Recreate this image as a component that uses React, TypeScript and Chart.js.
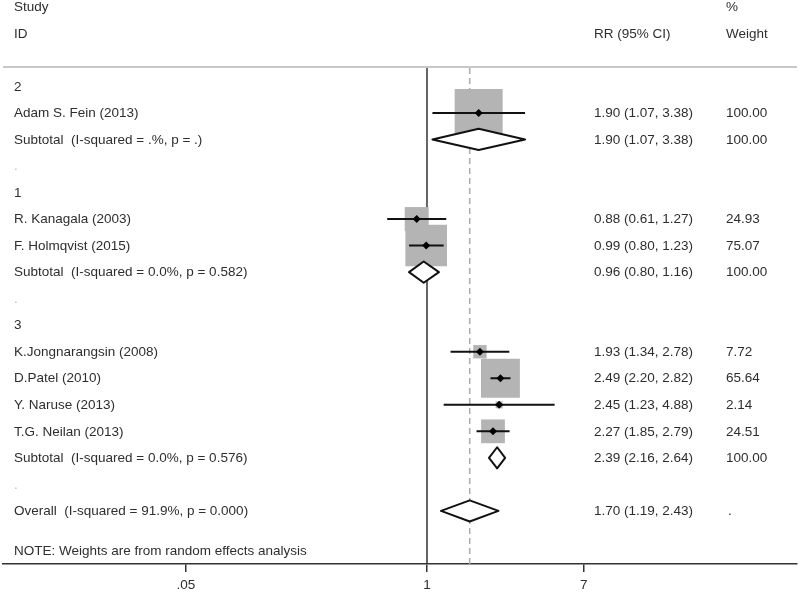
import React, { useEffect, useRef } from 'react';
import { Chart, registerables } from 'chart.js';

Chart.register(...registerables);

// ---- data ----
const GROUP_LABELS = ['2', '1', '3'];
const GROUP_ROWS = [0, 4, 9];

const STUDY_NAMES = [
  'Adam S. Fein (2013)',
  'R. Kanagala (2003)',
  'F. Holmqvist (2015)',
  'K.Jongnarangsin (2008)',
  'D.Patel (2010)',
  'Y. Naruse (2013)',
  'T.G. Neilan (2013)',
];
const STUDY_ROWS = [1, 5, 6, 10, 11, 12, 13];
const STUDY_RR = [1.9, 0.88, 0.99, 1.93, 2.49, 2.45, 2.27];
const STUDY_LO = [1.07, 0.61, 0.8, 1.34, 2.2, 1.23, 1.85];
const STUDY_HI = [3.38, 1.27, 1.23, 2.78, 2.82, 4.88, 2.79];
const STUDY_WEIGHT = [100.0, 24.93, 75.07, 7.72, 65.64, 2.14, 24.51];

const POOLED_LABELS = [
  'Subtotal  (I-squared = .%, p = .)',
  'Subtotal  (I-squared = 0.0%, p = 0.582)',
  'Subtotal  (I-squared = 0.0%, p = 0.576)',
  'Overall  (I-squared = 91.9%, p = 0.000)',
];
const POOLED_ROWS = [2, 7, 14, 16];
const POOLED_RR = [1.9, 0.96, 2.39, 1.7];
const POOLED_LO = [1.07, 0.8, 2.16, 1.19];
const POOLED_HI = [3.38, 1.16, 2.64, 2.43];
const POOLED_WEIGHT = ['100.00', '100.00', '100.00', '.'];

const SPACER_ROWS = [3, 8, 15];
const NOTE_TEXT = 'NOTE: Weights are from random effects analysis';
const NOTE_ROW = 17.5;

const X_TICKS = [0.05, 1, 7];
const X_TICK_LABELS = ['.05', '1', '7'];

// ---- styling constants ----
const FONT = '"Liberation Sans", Arial, sans-serif';
const FONT_SIZE = 13.5;
const TEXT_COLOR = '#2e2e2e';
const BOX_COLOR = '#b4b4b4';
const LINE_COLOR = '#111111';
const X_MIN = 0.00516;
const X_MAX = 99.1;
const Y_MIN = -0.73;
const Y_MAX = 18.0;
const BOX_SCALE = 48;
const DIAMOND_HALF = 0.4;

const fmt = (v: number) => v.toFixed(2);
const ciText = (rr: number, lo: number, hi: number) => `${fmt(rr)} (${fmt(lo)}, ${fmt(hi)})`;

const forestPlugin = {
  id: 'forestDecor',
  beforeDatasetsDraw(chart: any) {
    const { ctx, chartArea, scales } = chart;
    const x = scales.x;
    ctx.save();
    // header separator
    ctx.strokeStyle = '#c8c8c8';
    ctx.lineWidth = 2;
    ctx.beginPath();
    ctx.moveTo(chartArea.left, chartArea.top);
    ctx.lineTo(chartArea.right, chartArea.top);
    ctx.stroke();
    // null line at 1
    const x1 = x.getPixelForValue(1);
    ctx.strokeStyle = '#333333';
    ctx.lineWidth = 1.5;
    ctx.beginPath();
    ctx.moveTo(x1, chartArea.top + 1);
    ctx.lineTo(x1, chartArea.bottom);
    ctx.stroke();
    // overall dashed line
    const xo = x.getPixelForValue(POOLED_RR[POOLED_RR.length - 1]);
    ctx.strokeStyle = '#aaaaaa';
    ctx.lineWidth = 1.5;
    ctx.setLineDash([6, 4]);
    ctx.beginPath();
    ctx.moveTo(xo, chartArea.top + 1);
    ctx.lineTo(xo, chartArea.bottom);
    ctx.stroke();
    ctx.restore();
  },
  afterDatasetsDraw(chart: any) {
    const { ctx, scales } = chart;
    const y = scales.y;
    const COL_LABEL = 14;
    const COL_CI = 594;
    const COL_W = 726;
    ctx.save();
    ctx.font = `${FONT_SIZE}px ${FONT}`;
    ctx.textBaseline = 'middle';
    ctx.textAlign = 'left';
    ctx.fillStyle = TEXT_COLOR;
    const put = (t: string, px: number, row: number) => ctx.fillText(t, px, y.getPixelForValue(row) + 0.5);
    // headers
    put('Study', COL_LABEL, -3);
    put('ID', COL_LABEL, -2);
    put('%', COL_W, -3);
    put('Weight', COL_W, -2);
    put('RR (95% CI)', COL_CI, -2);
    GROUP_LABELS.forEach((g, i) => put(g, COL_LABEL, GROUP_ROWS[i]));
    STUDY_NAMES.forEach((n, i) => {
      put(n, COL_LABEL, STUDY_ROWS[i]);
      put(ciText(STUDY_RR[i], STUDY_LO[i], STUDY_HI[i]), COL_CI, STUDY_ROWS[i]);
      put(fmt(STUDY_WEIGHT[i]), COL_W, STUDY_ROWS[i]);
    });
    POOLED_LABELS.forEach((n, i) => {
      put(n, COL_LABEL, POOLED_ROWS[i]);
      put(ciText(POOLED_RR[i], POOLED_LO[i], POOLED_HI[i]), COL_CI, POOLED_ROWS[i]);
      put(POOLED_WEIGHT[i], POOLED_WEIGHT[i] === '.' ? COL_W + 2 : COL_W, POOLED_ROWS[i]);
    });
    put(NOTE_TEXT, COL_LABEL, NOTE_ROW);
    ctx.fillStyle = '#bbbbbb';
    SPACER_ROWS.forEach((r) => put('.', COL_LABEL, r));
    ctx.restore();
  },
};

export default function App() {
  const ref = useRef<HTMLCanvasElement | null>(null);

  useEffect(() => {
    document.body.style.margin = '0';
    if (!ref.current) return;

    const boxes = {
      label: 'weights',
      data: STUDY_RR.map((v, i) => ({ x: v, y: STUDY_ROWS[i] })),
      pointStyle: 'rect',
      pointRadius: STUDY_WEIGHT.map((w) => (BOX_SCALE * Math.sqrt(w / 100)) / Math.SQRT2),
      backgroundColor: BOX_COLOR,
      borderWidth: 0,
      order: 10,
    };

    const cis = STUDY_RR.map((_, i) => ({
      label: 'ci' + i,
      data: [
        { x: STUDY_LO[i], y: STUDY_ROWS[i] },
        { x: STUDY_HI[i], y: STUDY_ROWS[i] },
      ],
      showLine: true,
      borderColor: LINE_COLOR,
      borderWidth: 2,
      pointRadius: 0,
      order: 8,
    }));

    const diamonds = POOLED_RR.map((v, i) => {
      const r = POOLED_ROWS[i];
      return {
        label: 'pooled' + i,
        data: [
          { x: POOLED_LO[i], y: r },
          { x: v, y: r - DIAMOND_HALF },
          { x: POOLED_HI[i], y: r },
          { x: v, y: r + DIAMOND_HALF },
          { x: POOLED_LO[i], y: r },
        ],
        showLine: true,
        fill: 'shape',
        backgroundColor: '#ffffff',
        borderColor: LINE_COLOR,
        borderWidth: 2,
        borderJoinStyle: 'round',
        borderCapStyle: 'round',
        pointRadius: 0,
        tension: 0,
        order: 5,
      };
    });

    const points = {
      label: 'estimates',
      data: STUDY_RR.map((v, i) => ({ x: v, y: STUDY_ROWS[i] })),
      pointStyle: 'rectRot',
      pointRadius: 4,
      backgroundColor: '#000000',
      borderColor: '#000000',
      borderWidth: 0,
      order: 1,
    };

    const chart = new Chart(ref.current, {
      type: 'scatter',
      data: { datasets: [points, ...diamonds, ...cis, boxes] as any },
      options: {
        animation: false,
        responsive: false,
        events: [],
        layout: { autoPadding: false, padding: { top: 67, left: 3, right: 3, bottom: 0 } },
        plugins: { legend: { display: false }, tooltip: { enabled: false } },
        scales: {
          x: {
            type: 'logarithmic',
            min: X_MIN,
            max: X_MAX,
            bounds: 'data',
            afterBuildTicks: (scale: any) => {
              scale.ticks = X_TICKS.map((v) => ({ value: v }));
            },
            afterFit: (scale: any) => {
              scale.height = 29;
            },
            ticks: {
              autoSkip: false,
              maxRotation: 0,
              padding: 5,
              color: TEXT_COLOR,
              font: { family: FONT, size: FONT_SIZE },
              callback: (_v: any, i: number) => X_TICK_LABELS[i],
            },
            grid: {
              drawOnChartArea: false,
              drawTicks: true,
              tickLength: 8,
              color: '#333333',
              lineWidth: 1.5,
            },
            border: { display: true, color: '#333333', width: 1.5 },
          },
          y: {
            type: 'linear',
            display: false,
            reverse: true,
            min: Y_MIN,
            max: Y_MAX,
          },
        },
      } as any,
      plugins: [forestPlugin],
    });

    return () => chart.destroy();
  }, []);

  return (
    <div style={{ width: 800, height: 593, background: '#ffffff' }}>
      <canvas ref={ref} width={800} height={593} />
    </div>
  );
}
